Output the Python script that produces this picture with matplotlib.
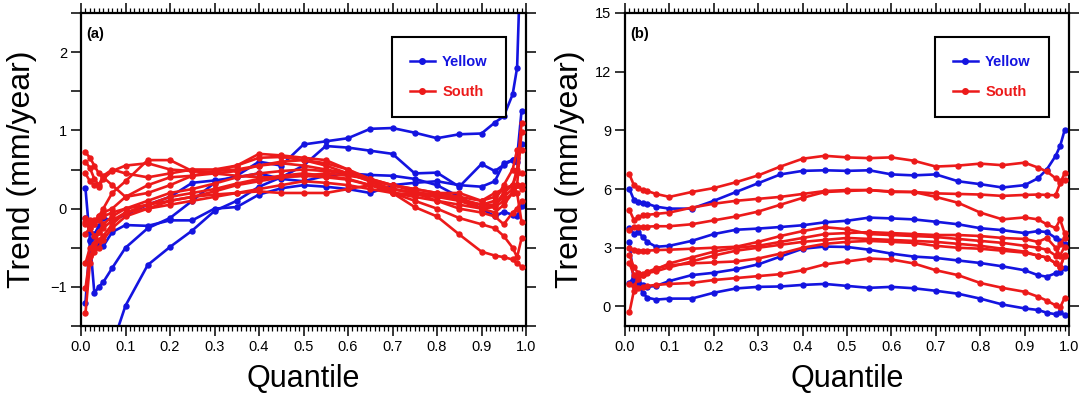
import numpy as np
import matplotlib
matplotlib.use("Agg")
import matplotlib.pyplot as plt
from matplotlib.lines import Line2D

plt.rcParams['font.family'] = ['Liberation Sans', 'DejaVu Sans']

# ---------------- data ----------------
quantiles = [0.01, 0.02, 0.03, 0.04, 0.05, 0.07, 0.10, 0.15, 0.20, 0.25, 0.30, 0.35, 0.40, 0.45,
             0.50, 0.55, 0.60, 0.65, 0.70, 0.75, 0.80, 0.85, 0.90, 0.93, 0.95, 0.97, 0.98, 0.99]

# panel (a)
a_yellow_1 = [0.26, -0.40, -1.08, -1.00, -0.94, -0.76, -0.50, -0.25, -0.12, 0.10, 0.33, 0.42, 0.60, 0.55,
              0.82, 0.86, 0.90, 1.02, 1.03, 0.97, 0.90, 0.95, 0.96, 1.10, 1.18, 1.46, 1.80, 3.60]
a_yellow_2 = [-3.40, -3.00, -2.70, -2.40, -2.15, -1.75, -1.24, -0.72, -0.49, -0.28, -0.03, 0.10, 0.28, 0.40,
              0.55, 0.80, 0.78, 0.74, 0.70, 0.45, 0.46, 0.28, 0.57, 0.48, 0.56, 0.62, 0.65, 1.25]
a_yellow_3 = [-1.21, -0.42, -0.36, -0.46, -0.48, -0.30, -0.21, -0.22, -0.15, -0.15, 0.00, 0.02, 0.18, 0.26,
              0.30, 0.28, 0.25, 0.20, 0.30, 0.33, 0.35, 0.30, 0.28, 0.35, 0.58, 0.62, 0.60, 0.82]
a_yellow_4 = [-0.12, -0.30, -0.33, -0.22, -0.12, -0.15, -0.08, 0.05, 0.15, 0.33, 0.36, 0.40, 0.45, 0.38,
              0.35, 0.42, 0.45, 0.43, 0.42, 0.38, 0.30, 0.15, 0.00, -0.10, -0.04, -0.08, -0.10, 0.03]

a_south_1 = [0.72, 0.65, 0.55, 0.45, 0.40, 0.30, 0.15, 0.20, 0.30, 0.42, 0.48, 0.50, 0.55, 0.60,
             0.62, 0.58, 0.50, 0.38, 0.20, 0.02, -0.10, -0.33, -0.55, -0.60, -0.62, -0.65, -0.70, -0.74]
a_south_2 = [0.60, 0.52, 0.38, 0.30, 0.42, 0.50, 0.45, 0.40, 0.45, 0.50, 0.50, 0.55, 0.65, 0.66,
             0.62, 0.55, 0.45, 0.35, 0.20, 0.10, 0.00, -0.12, -0.20, -0.25, -0.35, -0.50, -0.62, -0.38]
a_south_3 = [-0.12, -0.15, -0.20, -0.10, 0.00, 0.20, 0.35, 0.62, 0.62, 0.48, 0.47, 0.55, 0.70, 0.68,
             0.65, 0.62, 0.50, 0.35, 0.30, 0.22, 0.15, 0.10, 0.00, 0.05, 0.20, 0.30, 0.50, 1.09]
a_south_4 = [-0.17, -0.20, -0.15, -0.10, -0.05, 0.00, 0.15, 0.30, 0.40, 0.42, 0.45, 0.48, 0.55, 0.58,
             0.55, 0.50, 0.45, 0.35, 0.25, 0.20, 0.18, 0.12, 0.05, 0.10, 0.30, 0.50, 0.75, 0.75]
a_south_5 = [-0.32, -0.25, -0.20, -0.15, -0.10, -0.05, 0.00, 0.10, 0.20, 0.25, 0.32, 0.40, 0.45, 0.48,
             0.50, 0.48, 0.45, 0.38, 0.30, 0.25, 0.20, 0.20, 0.10, 0.15, 0.25, 0.30, 0.45, 0.45]
a_south_6 = [-0.70, -0.50, -0.45, -0.30, -0.25, -0.15, -0.05, 0.05, 0.15, 0.20, 0.25, 0.32, 0.38, 0.42,
             0.45, 0.42, 0.38, 0.30, 0.25, 0.20, 0.18, 0.15, 0.10, 0.20, 0.25, 0.30, 0.20, -0.17]
a_south_7 = [-1.02, -0.60, -0.50, -0.40, -0.35, -0.20, -0.05, 0.00, 0.10, 0.15, 0.22, 0.30, 0.35, 0.40,
             0.42, 0.40, 0.37, 0.30, 0.20, 0.15, 0.10, 0.05, 0.00, 0.02, 0.10, 0.20, 0.30, 0.98]
a_south_8 = [-1.34, -0.70, -0.55, -0.50, -0.40, -0.25, -0.10, 0.00, 0.05, 0.10, 0.15, 0.20, 0.25, 0.30,
             0.35, 0.33, 0.30, 0.25, 0.20, 0.18, 0.15, 0.12, 0.05, 0.05, 0.15, 0.25, 0.30, 0.30]
a_south_9 = [-0.20, -0.25, -0.35, -0.30, -0.20, -0.10, 0.00, 0.05, 0.10, 0.15, 0.18, 0.20, 0.22, 0.20,
             0.20, 0.20, 0.25, 0.30, 0.25, 0.20, 0.10, 0.00, -0.05, -0.10, -0.20, -0.05, 0.00, 0.10]
a_south_10 = [0.45, 0.35, 0.30, 0.28, 0.38, 0.48, 0.55, 0.58, 0.50, 0.48, 0.45, 0.42, 0.40, 0.40,
              0.42, 0.45, 0.42, 0.38, 0.30, 0.25, 0.20, 0.15, 0.00, -0.05, 0.05, 0.20, 0.30, 0.25]

# panel (b)
b_yellow_1 = [6.00, 5.45, 5.35, 5.30, 5.25, 5.10, 5.00, 5.00, 5.40, 5.85, 6.30, 6.75, 6.93, 6.96,
              6.93, 6.96, 6.75, 6.70, 6.75, 6.40, 6.25, 6.08, 6.20, 6.55, 7.00, 7.70, 8.20, 9.00]
b_yellow_2 = [4.00, 3.72, 3.80, 3.55, 3.30, 3.05, 3.10, 3.35, 3.70, 3.92, 3.98, 4.06, 4.15, 4.30,
              4.38, 4.54, 4.50, 4.45, 4.33, 4.20, 4.00, 3.90, 3.75, 3.85, 3.80, 3.50, 3.35, 3.20]
b_yellow_3 = [1.20, 1.50, 1.30, 1.10, 1.00, 1.05, 1.30, 1.60, 1.72, 1.90, 2.15, 2.55, 2.95, 3.06,
              3.04, 2.90, 2.70, 2.55, 2.48, 2.35, 2.22, 2.05, 1.85, 1.60, 1.52, 1.70, 1.75, 1.95]
b_yellow_4 = [3.30, 1.20, 1.10, 0.70, 0.45, 0.35, 0.40, 0.40, 0.70, 0.92, 1.00, 1.02, 1.10, 1.15,
              1.05, 0.95, 1.00, 0.93, 0.80, 0.65, 0.40, 0.10, -0.10, -0.18, -0.32, -0.40, -0.30, -0.43]

b_south_1 = [6.75, 6.20, 6.05, 5.95, 5.90, 5.75, 5.60, 5.85, 6.05, 6.35, 6.70, 7.15, 7.55, 7.70,
             7.62, 7.58, 7.62, 7.45, 7.15, 7.20, 7.30, 7.22, 7.35, 7.10, 6.90, 6.55, 6.40, 6.45]
b_south_2 = [4.93, 4.42, 4.55, 4.65, 4.68, 4.73, 4.80, 5.05, 5.25, 5.40, 5.50, 5.60, 5.75, 5.90,
             5.95, 5.95, 5.88, 5.85, 5.78, 5.75, 5.72, 5.65, 5.70, 5.72, 5.70, 5.68, 6.30, 6.80]
b_south_3 = [3.90, 4.05, 4.05, 4.05, 4.08, 4.10, 4.10, 4.20, 4.40, 4.60, 4.85, 5.20, 5.55, 5.85,
             5.90, 5.95, 5.85, 5.85, 5.60, 5.30, 4.80, 4.45, 4.55, 4.45, 4.20, 4.00, 4.45, 3.75]
b_south_4 = [2.98, 2.90, 2.85, 2.85, 2.85, 2.88, 2.90, 2.95, 3.00, 3.05, 3.30, 3.60, 3.85, 4.05,
             3.95, 3.70, 3.65, 3.60, 3.55, 3.45, 3.35, 3.25, 3.10, 3.00, 2.90, 2.60, 3.20, 3.50]
b_south_5 = [2.64, 2.00, 1.70, 1.65, 1.75, 1.90, 2.20, 2.50, 2.80, 3.00, 3.10, 3.30, 3.50, 3.70,
             3.75, 3.80, 3.75, 3.70, 3.65, 3.65, 3.60, 3.50, 3.45, 3.30, 3.50, 3.00, 2.60, 3.06]
b_south_6 = [2.21, 1.60, 1.55, 1.60, 1.70, 1.80, 2.00, 2.30, 2.60, 2.85, 3.00, 3.15, 3.30, 3.40,
             3.50, 3.45, 3.40, 3.35, 3.30, 3.20, 3.10, 2.95, 2.80, 2.60, 2.50, 2.20, 2.00, 2.64]
b_south_7 = [-0.30, 0.80, 0.95, 1.00, 1.05, 1.10, 1.15, 1.20, 1.35, 1.45, 1.55, 1.65, 1.85, 2.15,
             2.30, 2.45, 2.40, 2.20, 1.85, 1.60, 1.20, 0.95, 0.75, 0.50, 0.30, 0.05, -0.05, 0.43]
b_south_8 = [1.16, 1.05, 1.40, 1.60, 1.75, 1.95, 2.10, 2.20, 2.25, 2.30, 2.45, 2.70, 3.00, 3.20,
             3.30, 3.35, 3.30, 3.25, 3.10, 3.00, 2.95, 2.85, 2.75, 2.60, 2.50, 2.20, 2.00, 2.60]

a_yellow = [a_yellow_1, a_yellow_2, a_yellow_3, a_yellow_4]
a_south = [a_south_1, a_south_2, a_south_3, a_south_4, a_south_5,
           a_south_6, a_south_7, a_south_8, a_south_9, a_south_10]
b_yellow = [b_yellow_1, b_yellow_2, b_yellow_3, b_yellow_4]
b_south = [b_south_1, b_south_2, b_south_3, b_south_4, b_south_5, b_south_6, b_south_7, b_south_8]

series_names = ["Yellow", "South"]
panel_labels = ["(a)", "(b)"]
a_ylim = (-1.5, 2.5)
b_ylim = (-1.0, 15.0)
a_yticks = [-1.5, -1.0, -0.5, 0.0, 0.5, 1.0, 1.5, 2.0, 2.5]
a_yticklabels = ["", "\u22121", "", "0", "", "1", "", "2", ""]
b_yticks = [0, 3, 6, 9, 12, 15]
b_yticklabels = ["0", "3", "6", "9", "12", "15"]
xticks = [0.0, 0.1, 0.2, 0.3, 0.4, 0.5, 0.6, 0.7, 0.8, 0.9, 1.0]

BLUE = "#1414e0"
RED = "#ec1a1a"

# ---------------- figure ----------------
fig = plt.figure(figsize=(10.83, 3.95), dpi=100)
W, H = 1083, 395
ax_a = fig.add_axes([81 / W, (H - 326) / H, (526 - 81) / W, (326 - 13) / H])
ax_b = fig.add_axes([625 / W, (H - 326) / H, (1069 - 625) / W, (326 - 13) / H])


def style_axes(ax, ylim, yticks, yticklabels, label, ylabel_x):
    ax.set_xlim(0, 1.0)
    ax.set_ylim(*ylim)
    ax.set_xticks(xticks)
    ax.set_xticklabels([f"{t:.1f}" for t in xticks])
    ax.set_xticks(np.linspace(0, 1, 101), minor=True)
    ax.set_yticks(yticks)
    ax.set_yticklabels(yticklabels)
    ax.tick_params(which='major', direction='out', length=7, width=1.1,
                   top=True, right=True, labelsize=10.5, pad=3)
    ax.tick_params(which='minor', axis='x', direction='out', length=3.5, width=0.9,
                   top=True, bottom=True)
    ax.tick_params(which='minor', axis='y', left=False, right=False)
    for sp in ax.spines.values():
        sp.set_linewidth(1.6)
    ax.set_xlabel("Quantile", fontsize=22)
    ax.xaxis.set_label_coords(0.5, -0.168)
    ax.xaxis.label.set_va('center')
    ax.set_ylabel("Trend (mm/year)", fontsize=23)
    ax.yaxis.set_label_coords(ylabel_x, 0.5)
    ax.yaxis.label.set_va('center')
    ax.text(0.012, 0.955, label, transform=ax.transAxes, fontsize=10.5,
            fontweight='bold', ha='left', va='top')
    handles = [Line2D([0], [0], color=BLUE, lw=1.8, marker='o', ms=4),
               Line2D([0], [0], color=RED, lw=1.8, marker='o', ms=4)]
    leg = ax.legend(handles, series_names, loc='upper right',
                    bbox_to_anchor=(0.955, 0.923), frameon=True, fancybox=False,
                    framealpha=1, edgecolor='black', borderpad=1.25, labelspacing=1.05,
                    handlelength=1.7, handletextpad=0.5, borderaxespad=0,
                    prop={'weight': 'bold', 'size': 10.5})
    leg.get_frame().set_linewidth(1.5)
    for txt, c in zip(leg.get_texts(), [BLUE, RED]):
        txt.set_color(c)


for ax, yel, sou in [(ax_a, a_yellow, a_south), (ax_b, b_yellow, b_south)]:
    for vals in yel:
        ax.plot(quantiles, vals, '-o', color=BLUE, lw=1.9, ms=3.6, zorder=2)
    for vals in sou:
        ax.plot(quantiles, vals, '-o', color=RED, lw=1.9, ms=3.6, zorder=3)

style_axes(ax_a, a_ylim, a_yticks, a_yticklabels, panel_labels[0], -0.132)
style_axes(ax_b, b_ylim, b_yticks, b_yticklabels, panel_labels[1], -0.124)

fig.savefig("out.png", dpi=100)
